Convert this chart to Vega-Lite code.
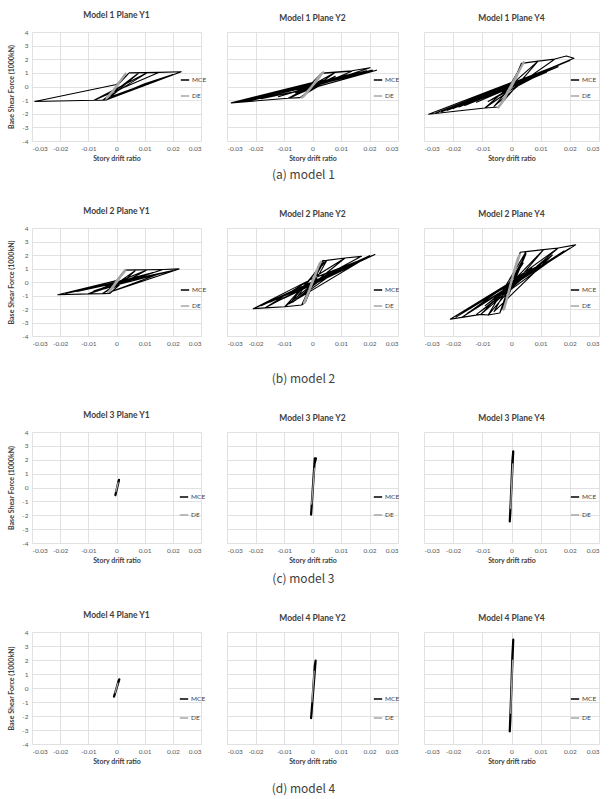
{
"$schema":"https://vega.github.io/schema/vega-lite/v6.json",
"background":"white",
"padding":{"left":7,"top":10,"right":5,"bottom":5},
"config":{
 "font":"Lato",
 "view":{"stroke":null},
 "axis":{"grid":true,"gridColor":"#d9d9d9","gridWidth":0.8,"domain":false,"ticks":false,"labelFontSize":6.5,"labelColor":"#595959","titleFontSize":7,"titleFontWeight":"bold","titleColor":"#404040","labelFont":"Lato","titleFont":"Lato"},
 "legend":{"labelFont":"Lato","labelColor":"#404040"},
 "title":{"fontSize":8.5,"fontWeight":"bold","color":"#404040","offset":10,"font":"Lato"},
 "line":{"strokeJoin":"round","strokeCap":"round"}
},
"datasets":{"d":[
{"p":"1Y1","s":"MCE","i":0,"x":0,"y":0},
{"p":"1Y1","s":"MCE","i":1,"x":0.0045,"y":1.0},
{"p":"1Y1","s":"MCE","i":2,"x":0.008,"y":1.01},
{"p":"1Y1","s":"MCE","i":3,"x":-0.0035,"y":-0.98},
{"p":"1Y1","s":"MCE","i":4,"x":-0.0049,"y":-1.0},
{"p":"1Y1","s":"MCE","i":5,"x":0.008,"y":1.01},
{"p":"1Y1","s":"MCE","i":6,"x":0.011,"y":1.02},
{"p":"1Y1","s":"MCE","i":7,"x":-0.0049,"y":-1.0},
{"p":"1Y1","s":"MCE","i":8,"x":-0.008,"y":-1.01},
{"p":"1Y1","s":"MCE","i":9,"x":0.011,"y":1.02},
{"p":"1Y1","s":"MCE","i":10,"x":0.015,"y":1.03},
{"p":"1Y1","s":"MCE","i":11,"x":-0.008,"y":-1.01},
{"p":"1Y1","s":"MCE","i":12,"x":-0.029,"y":-1.1},
{"p":"1Y1","s":"MCE","i":13,"x":0.0,"y":0.15},
{"p":"1Y1","s":"MCE","i":14,"x":0.0045,"y":1.0},
{"p":"1Y1","s":"MCE","i":15,"x":0.015,"y":1.04},
{"p":"1Y1","s":"MCE","i":16,"x":0.023,"y":1.08},
{"p":"1Y1","s":"MCE","i":17,"x":-0.0035,"y":-0.97},
{"p":"1Y1","s":"MCE","i":18,"x":0.01,"y":0.2},
{"p":"1Y1","s":"MCE","i":19,"x":0.02,"y":0.88},
{"p":"1Y1","s":"MCE","i":20,"x":0.004,"y":-0.3},
{"p":"1Y1","s":"MCE","i":21,"x":-0.002,"y":-0.75},
{"p":"1Y1","s":"MCE","i":22,"x":0.001,"y":-0.2},
{"p":"1Y1","s":"DE","i":0,"x":-0.0028,"y":-0.7},
{"p":"1Y1","s":"DE","i":1,"x":-0.0012,"y":-0.35},
{"p":"1Y1","s":"DE","i":2,"x":0.0005,"y":0.15},
{"p":"1Y1","s":"DE","i":3,"x":0.002,"y":0.6},
{"p":"1Y1","s":"DE","i":4,"x":0.0033,"y":0.95},
{"p":"1Y1","s":"DE","i":5,"x":0.0025,"y":0.75},
{"p":"1Y1","s":"DE","i":6,"x":0.001,"y":0.3},
{"p":"1Y1","s":"DE","i":7,"x":-0.0005,"y":-0.15},
{"p":"1Y1","s":"DE","i":8,"x":-0.002,"y":-0.5},
{"p":"1Y1","s":"DE","i":9,"x":-0.0035,"y":-0.85},
{"p":"1Y1","s":"DE","i":10,"x":-0.0025,"y":-0.65},
{"p":"1Y1","s":"DE","i":11,"x":-0.0005,"y":-0.1},
{"p":"1Y1","s":"DE","i":12,"x":0.0015,"y":0.45},
{"p":"1Y1","s":"DE","i":13,"x":0.003,"y":0.85},

{"p":"1Y2","s":"MCE","i":0,"x":0,"y":0},
{"p":"1Y2","s":"MCE","i":1,"x":0.0032,"y":0.95},
{"p":"1Y2","s":"MCE","i":2,"x":0.0079,"y":1.03},
{"p":"1Y2","s":"MCE","i":3,"x":-0.0044,"y":-0.82},
{"p":"1Y2","s":"MCE","i":4,"x":-0.0085,"y":-0.86},
{"p":"1Y2","s":"MCE","i":5,"x":0.0079,"y":1.03},
{"p":"1Y2","s":"MCE","i":6,"x":0.0138,"y":1.12},
{"p":"1Y2","s":"MCE","i":7,"x":-0.0085,"y":-0.86},
{"p":"1Y2","s":"MCE","i":8,"x":-0.0285,"y":-1.2},
{"p":"1Y2","s":"MCE","i":9,"x":0.0,"y":0.3},
{"p":"1Y2","s":"MCE","i":10,"x":0.0032,"y":0.98},
{"p":"1Y2","s":"MCE","i":11,"x":0.0138,"y":1.15},
{"p":"1Y2","s":"MCE","i":12,"x":0.0202,"y":1.38},
{"p":"1Y2","s":"MCE","i":13,"x":-0.006,"y":-0.45},
{"p":"1Y2","s":"MCE","i":14,"x":0.0225,"y":1.19},
{"p":"1Y2","s":"MCE","i":15,"x":-0.02,"y":-0.95},
{"p":"1Y2","s":"MCE","i":16,"x":-0.0285,"y":-1.2},
{"p":"1Y2","s":"MCE","i":17,"x":0.004,"y":0.45},
{"p":"1Y2","s":"MCE","i":18,"x":-0.007,"y":-0.75},
{"p":"1Y2","s":"MCE","i":19,"x":0.008,"y":0.75},
{"p":"1Y2","s":"MCE","i":20,"x":-0.003,"y":-0.6},
{"p":"1Y2","s":"MCE","i":21,"x":0.0,"y":-0.1},
{"p":"1Y2","s":"MCE","i":22,"x":-0.018,"y":-0.9},
{"p":"1Y2","s":"MCE","i":23,"x":0.016,"y":1.05},
{"p":"1Y2","s":"MCE","i":24,"x":-0.024,"y":-1.1},
{"p":"1Y2","s":"MCE","i":25,"x":0.019,"y":1.15},
{"p":"1Y2","s":"MCE","i":26,"x":-0.012,"y":-0.75},
{"p":"1Y2","s":"MCE","i":27,"x":0.012,"y":0.85},
{"p":"1Y2","s":"MCE","i":28,"x":-0.026,"y":-1.15},
{"p":"1Y2","s":"MCE","i":29,"x":0.021,"y":1.2},
{"p":"1Y2","s":"DE","i":0,"x":-0.0038,"y":-0.82},
{"p":"1Y2","s":"DE","i":1,"x":-0.0032,"y":-0.72},
{"p":"1Y2","s":"DE","i":2,"x":-0.002,"y":-0.4},
{"p":"1Y2","s":"DE","i":3,"x":-0.0005,"y":-0.05},
{"p":"1Y2","s":"DE","i":4,"x":0.001,"y":0.35},
{"p":"1Y2","s":"DE","i":5,"x":0.0025,"y":0.8},
{"p":"1Y2","s":"DE","i":6,"x":0.0038,"y":1.05},
{"p":"1Y2","s":"DE","i":7,"x":0.003,"y":0.85},
{"p":"1Y2","s":"DE","i":8,"x":0.0015,"y":0.4},
{"p":"1Y2","s":"DE","i":9,"x":0.0,"y":0.05},
{"p":"1Y2","s":"DE","i":10,"x":-0.0015,"y":-0.35},
{"p":"1Y2","s":"DE","i":11,"x":-0.003,"y":-0.7},
{"p":"1Y2","s":"DE","i":12,"x":-0.0038,"y":-0.82},

{"p":"1Y4","s":"MCE","i":0,"x":0,"y":0},
{"p":"1Y4","s":"MCE","i":1,"x":0.0034,"y":1.7},
{"p":"1Y4","s":"MCE","i":2,"x":0.0091,"y":1.86},
{"p":"1Y4","s":"MCE","i":3,"x":-0.0045,"y":-1.5},
{"p":"1Y4","s":"MCE","i":4,"x":-0.0091,"y":-1.58},
{"p":"1Y4","s":"MCE","i":5,"x":0.0091,"y":1.86},
{"p":"1Y4","s":"MCE","i":6,"x":0.0148,"y":2.0},
{"p":"1Y4","s":"MCE","i":7,"x":-0.0091,"y":-1.58},
{"p":"1Y4","s":"MCE","i":8,"x":-0.0193,"y":-1.82},
{"p":"1Y4","s":"MCE","i":9,"x":-0.0284,"y":-2.04},
{"p":"1Y4","s":"MCE","i":10,"x":0.0,"y":0.3},
{"p":"1Y4","s":"MCE","i":11,"x":0.004,"y":1.72},
{"p":"1Y4","s":"MCE","i":12,"x":0.0148,"y":2.02},
{"p":"1Y4","s":"MCE","i":13,"x":0.0188,"y":2.24},
{"p":"1Y4","s":"MCE","i":14,"x":0.0214,"y":2.07},
{"p":"1Y4","s":"MCE","i":15,"x":-0.02,"y":-1.62},
{"p":"1Y4","s":"MCE","i":16,"x":0.016,"y":1.45},
{"p":"1Y4","s":"MCE","i":17,"x":-0.016,"y":-1.4},
{"p":"1Y4","s":"MCE","i":18,"x":0.012,"y":1.05},
{"p":"1Y4","s":"MCE","i":19,"x":-0.012,"y":-1.15},
{"p":"1Y4","s":"MCE","i":20,"x":0.008,"y":0.7},
{"p":"1Y4","s":"MCE","i":21,"x":-0.008,"y":-1.1},
{"p":"1Y4","s":"MCE","i":22,"x":0.005,"y":0.55},
{"p":"1Y4","s":"MCE","i":23,"x":-0.006,"y":-1.45},
{"p":"1Y4","s":"MCE","i":24,"x":0.0,"y":0.0},
{"p":"1Y4","s":"MCE","i":25,"x":-0.024,"y":-1.85},
{"p":"1Y4","s":"MCE","i":26,"x":0.018,"y":1.75},
{"p":"1Y4","s":"MCE","i":27,"x":-0.026,"y":-1.95},
{"p":"1Y4","s":"MCE","i":28,"x":0.02,"y":1.9},
{"p":"1Y4","s":"MCE","i":29,"x":-0.018,"y":-1.5},
{"p":"1Y4","s":"MCE","i":30,"x":0.014,"y":1.3},
{"p":"1Y4","s":"MCE","i":31,"x":-0.022,"y":-1.75},
{"p":"1Y4","s":"MCE","i":32,"x":0.0,"y":0.0},
{"p":"1Y4","s":"DE","i":0,"x":-0.0045,"y":-1.55},
{"p":"1Y4","s":"DE","i":1,"x":-0.0035,"y":-1.25},
{"p":"1Y4","s":"DE","i":2,"x":-0.002,"y":-0.7},
{"p":"1Y4","s":"DE","i":3,"x":0.0,"y":0.0},
{"p":"1Y4","s":"DE","i":4,"x":0.0015,"y":0.6},
{"p":"1Y4","s":"DE","i":5,"x":0.003,"y":1.3},
{"p":"1Y4","s":"DE","i":6,"x":0.0042,"y":1.78},
{"p":"1Y4","s":"DE","i":7,"x":0.0035,"y":1.5},
{"p":"1Y4","s":"DE","i":8,"x":0.002,"y":0.9},
{"p":"1Y4","s":"DE","i":9,"x":0.0,"y":0.15},
{"p":"1Y4","s":"DE","i":10,"x":-0.0015,"y":-0.45},
{"p":"1Y4","s":"DE","i":11,"x":-0.003,"y":-1.05},
{"p":"1Y4","s":"DE","i":12,"x":-0.0045,"y":-1.55},
{"p":"1Y4","s":"DE","i":13,"x":-0.0025,"y":-0.95},
{"p":"1Y4","s":"DE","i":14,"x":0.0005,"y":0.35},
{"p":"1Y4","s":"DE","i":15,"x":0.0025,"y":1.1},

{"p":"2Y1","s":"MCE","i":0,"x":0,"y":0},
{"p":"2Y1","s":"MCE","i":1,"x":0.003,"y":0.88},
{"p":"2Y1","s":"MCE","i":2,"x":0.007,"y":0.9},
{"p":"2Y1","s":"MCE","i":3,"x":-0.0024,"y":-0.85},
{"p":"2Y1","s":"MCE","i":4,"x":-0.005,"y":-0.86},
{"p":"2Y1","s":"MCE","i":5,"x":0.007,"y":0.9},
{"p":"2Y1","s":"MCE","i":6,"x":0.011,"y":0.91},
{"p":"2Y1","s":"MCE","i":7,"x":-0.005,"y":-0.86},
{"p":"2Y1","s":"MCE","i":8,"x":-0.01,"y":-0.88},
{"p":"2Y1","s":"MCE","i":9,"x":0.011,"y":0.91},
{"p":"2Y1","s":"MCE","i":10,"x":0.0165,"y":0.93},
{"p":"2Y1","s":"MCE","i":11,"x":-0.01,"y":-0.88},
{"p":"2Y1","s":"MCE","i":12,"x":-0.0208,"y":-0.95},
{"p":"2Y1","s":"MCE","i":13,"x":0.0,"y":0.1},
{"p":"2Y1","s":"MCE","i":14,"x":0.003,"y":0.88},
{"p":"2Y1","s":"MCE","i":15,"x":0.0165,"y":0.93},
{"p":"2Y1","s":"MCE","i":16,"x":0.0222,"y":0.97},
{"p":"2Y1","s":"MCE","i":17,"x":-0.003,"y":-0.8},
{"p":"2Y1","s":"MCE","i":18,"x":0.015,"y":0.6},
{"p":"2Y1","s":"MCE","i":19,"x":-0.016,"y":-0.75},
{"p":"2Y1","s":"MCE","i":20,"x":0.01,"y":0.4},
{"p":"2Y1","s":"MCE","i":21,"x":-0.012,"y":-0.6},
{"p":"2Y1","s":"MCE","i":22,"x":0.006,"y":0.3},
{"p":"2Y1","s":"MCE","i":23,"x":-0.004,"y":-0.5},
{"p":"2Y1","s":"MCE","i":24,"x":0.0,"y":0.0},
{"p":"2Y1","s":"MCE","i":25,"x":-0.018,"y":-0.85},
{"p":"2Y1","s":"MCE","i":26,"x":0.02,"y":0.85},
{"p":"2Y1","s":"MCE","i":27,"x":-0.014,"y":-0.7},
{"p":"2Y1","s":"MCE","i":28,"x":0.018,"y":0.75},
{"p":"2Y1","s":"MCE","i":29,"x":-0.008,"y":-0.65},
{"p":"2Y1","s":"MCE","i":30,"x":0.013,"y":0.7},
{"p":"2Y1","s":"MCE","i":31,"x":0.0,"y":0.0},
{"p":"2Y1","s":"DE","i":0,"x":-0.0025,"y":-0.7},
{"p":"2Y1","s":"DE","i":1,"x":-0.001,"y":-0.3},
{"p":"2Y1","s":"DE","i":2,"x":0.0008,"y":0.25},
{"p":"2Y1","s":"DE","i":3,"x":0.0025,"y":0.75},
{"p":"2Y1","s":"DE","i":4,"x":0.0032,"y":0.85},
{"p":"2Y1","s":"DE","i":5,"x":0.002,"y":0.55},
{"p":"2Y1","s":"DE","i":6,"x":0.0,"y":0.05},
{"p":"2Y1","s":"DE","i":7,"x":-0.0015,"y":-0.4},
{"p":"2Y1","s":"DE","i":8,"x":-0.003,"y":-0.75},
{"p":"2Y1","s":"DE","i":9,"x":-0.0015,"y":-0.45},
{"p":"2Y1","s":"DE","i":10,"x":0.0005,"y":0.1},
{"p":"2Y1","s":"DE","i":11,"x":0.002,"y":0.6},

{"p":"2Y2","s":"MCE","i":0,"x":0,"y":0},
{"p":"2Y2","s":"MCE","i":1,"x":0.0025,"y":1.4},
{"p":"2Y2","s":"MCE","i":2,"x":0.0035,"y":1.55},
{"p":"2Y2","s":"MCE","i":3,"x":-0.0025,"y":-1.5},
{"p":"2Y2","s":"MCE","i":4,"x":-0.0038,"y":-1.7},
{"p":"2Y2","s":"MCE","i":5,"x":0.0035,"y":1.58},
{"p":"2Y2","s":"MCE","i":6,"x":0.005,"y":1.6},
{"p":"2Y2","s":"MCE","i":7,"x":-0.0038,"y":-1.7},
{"p":"2Y2","s":"MCE","i":8,"x":-0.0097,"y":-1.83},
{"p":"2Y2","s":"MCE","i":9,"x":0.005,"y":1.6},
{"p":"2Y2","s":"MCE","i":10,"x":0.0114,"y":1.78},
{"p":"2Y2","s":"MCE","i":11,"x":-0.0097,"y":-1.83},
{"p":"2Y2","s":"MCE","i":12,"x":-0.0167,"y":-1.92},
{"p":"2Y2","s":"MCE","i":13,"x":0.0114,"y":1.78},
{"p":"2Y2","s":"MCE","i":14,"x":0.0172,"y":1.9},
{"p":"2Y2","s":"MCE","i":15,"x":-0.0167,"y":-1.92},
{"p":"2Y2","s":"MCE","i":16,"x":-0.0208,"y":-1.98},
{"p":"2Y2","s":"MCE","i":17,"x":0.0,"y":0.25},
{"p":"2Y2","s":"MCE","i":18,"x":0.0219,"y":2.03},
{"p":"2Y2","s":"MCE","i":19,"x":0.012,"y":1.05},
{"p":"2Y2","s":"MCE","i":20,"x":-0.015,"y":-1.5},
{"p":"2Y2","s":"MCE","i":21,"x":0.014,"y":1.2},
{"p":"2Y2","s":"MCE","i":22,"x":-0.01,"y":-1.2},
{"p":"2Y2","s":"MCE","i":23,"x":0.009,"y":0.9},
{"p":"2Y2","s":"MCE","i":24,"x":-0.007,"y":-1.5},
{"p":"2Y2","s":"MCE","i":25,"x":0.006,"y":0.7},
{"p":"2Y2","s":"MCE","i":26,"x":-0.005,"y":-1.0},
{"p":"2Y2","s":"MCE","i":27,"x":0.003,"y":1.3},
{"p":"2Y2","s":"MCE","i":28,"x":0.0,"y":0.0},
{"p":"2Y2","s":"MCE","i":29,"x":-0.018,"y":-1.75},
{"p":"2Y2","s":"MCE","i":30,"x":0.019,"y":1.8},
{"p":"2Y2","s":"MCE","i":31,"x":-0.013,"y":-1.5},
{"p":"2Y2","s":"MCE","i":32,"x":0.016,"y":1.5},
{"p":"2Y2","s":"MCE","i":33,"x":-0.02,"y":-1.9},
{"p":"2Y2","s":"MCE","i":34,"x":0.02,"y":1.95},
{"p":"2Y2","s":"MCE","i":35,"x":-0.008,"y":-1.6},
{"p":"2Y2","s":"MCE","i":36,"x":0.004,"y":1.5},
{"p":"2Y2","s":"MCE","i":37,"x":0.0,"y":0.0},
{"p":"2Y2","s":"DE","i":0,"x":-0.0028,"y":-1.55},
{"p":"2Y2","s":"DE","i":1,"x":-0.0018,"y":-1.0},
{"p":"2Y2","s":"DE","i":2,"x":-0.0005,"y":-0.3},
{"p":"2Y2","s":"DE","i":3,"x":0.001,"y":0.5},
{"p":"2Y2","s":"DE","i":4,"x":0.0022,"y":1.2},
{"p":"2Y2","s":"DE","i":5,"x":0.003,"y":1.5},
{"p":"2Y2","s":"DE","i":6,"x":0.002,"y":1.1},
{"p":"2Y2","s":"DE","i":7,"x":0.0,"y":0.1},
{"p":"2Y2","s":"DE","i":8,"x":-0.0012,"y":-0.6},
{"p":"2Y2","s":"DE","i":9,"x":-0.0025,"y":-1.3},
{"p":"2Y2","s":"DE","i":10,"x":-0.003,"y":-1.55},
{"p":"2Y2","s":"DE","i":11,"x":-0.0015,"y":-0.8},
{"p":"2Y2","s":"DE","i":12,"x":0.0005,"y":0.3},
{"p":"2Y2","s":"DE","i":13,"x":0.0025,"y":1.35},

{"p":"2Y4","s":"MCE","i":0,"x":0,"y":0},
{"p":"2Y4","s":"MCE","i":1,"x":0.003,"y":2.2},
{"p":"2Y4","s":"MCE","i":2,"x":-0.004,"y":-2.3},
{"p":"2Y4","s":"MCE","i":3,"x":0.003,"y":2.2},
{"p":"2Y4","s":"MCE","i":4,"x":0.005,"y":2.25},
{"p":"2Y4","s":"MCE","i":5,"x":-0.004,"y":-2.3},
{"p":"2Y4","s":"MCE","i":6,"x":-0.008,"y":-2.45},
{"p":"2Y4","s":"MCE","i":7,"x":0.005,"y":2.25},
{"p":"2Y4","s":"MCE","i":8,"x":0.011,"y":2.4},
{"p":"2Y4","s":"MCE","i":9,"x":-0.008,"y":-2.45},
{"p":"2Y4","s":"MCE","i":10,"x":-0.0105,"y":-2.4},
{"p":"2Y4","s":"MCE","i":11,"x":0.011,"y":2.4},
{"p":"2Y4","s":"MCE","i":12,"x":0.016,"y":2.52},
{"p":"2Y4","s":"MCE","i":13,"x":-0.0105,"y":-2.4},
{"p":"2Y4","s":"MCE","i":14,"x":-0.017,"y":-2.62},
{"p":"2Y4","s":"MCE","i":15,"x":0.016,"y":2.52},
{"p":"2Y4","s":"MCE","i":16,"x":0.022,"y":2.75},
{"p":"2Y4","s":"MCE","i":17,"x":-0.017,"y":-2.62},
{"p":"2Y4","s":"MCE","i":18,"x":-0.021,"y":-2.76},
{"p":"2Y4","s":"MCE","i":19,"x":0.012,"y":1.6},
{"p":"2Y4","s":"MCE","i":20,"x":-0.014,"y":-1.95},
{"p":"2Y4","s":"MCE","i":21,"x":0.01,"y":1.3},
{"p":"2Y4","s":"MCE","i":22,"x":-0.009,"y":-1.75},
{"p":"2Y4","s":"MCE","i":23,"x":0.007,"y":1.05},
{"p":"2Y4","s":"MCE","i":24,"x":-0.006,"y":-1.6},
{"p":"2Y4","s":"MCE","i":25,"x":0.004,"y":1.4},
{"p":"2Y4","s":"MCE","i":26,"x":-0.002,"y":-0.6},
{"p":"2Y4","s":"MCE","i":27,"x":0.0,"y":0.0},
{"p":"2Y4","s":"MCE","i":28,"x":-0.019,"y":-2.6},
{"p":"2Y4","s":"MCE","i":29,"x":0.02,"y":2.5},
{"p":"2Y4","s":"MCE","i":30,"x":-0.015,"y":-2.3},
{"p":"2Y4","s":"MCE","i":31,"x":0.018,"y":2.3},
{"p":"2Y4","s":"MCE","i":32,"x":-0.012,"y":-2.4},
{"p":"2Y4","s":"MCE","i":33,"x":0.014,"y":2.0},
{"p":"2Y4","s":"MCE","i":34,"x":-0.006,"y":-2.2},
{"p":"2Y4","s":"MCE","i":35,"x":0.005,"y":2.1},
{"p":"2Y4","s":"MCE","i":36,"x":-0.003,"y":-2.0},
{"p":"2Y4","s":"MCE","i":37,"x":0.0,"y":0.0},
{"p":"2Y4","s":"DE","i":0,"x":-0.0025,"y":-2.0},
{"p":"2Y4","s":"DE","i":1,"x":-0.0015,"y":-1.2},
{"p":"2Y4","s":"DE","i":2,"x":-0.0003,"y":-0.2},
{"p":"2Y4","s":"DE","i":3,"x":0.001,"y":0.8},
{"p":"2Y4","s":"DE","i":4,"x":0.002,"y":1.6},
{"p":"2Y4","s":"DE","i":5,"x":0.0028,"y":2.0},
{"p":"2Y4","s":"DE","i":6,"x":0.0018,"y":1.3},
{"p":"2Y4","s":"DE","i":7,"x":0.0,"y":0.1},
{"p":"2Y4","s":"DE","i":8,"x":-0.0012,"y":-0.9},
{"p":"2Y4","s":"DE","i":9,"x":-0.0022,"y":-1.7},
{"p":"2Y4","s":"DE","i":10,"x":-0.0028,"y":-2.05},
{"p":"2Y4","s":"DE","i":11,"x":-0.0012,"y":-1.0},
{"p":"2Y4","s":"DE","i":12,"x":0.0005,"y":0.5},
{"p":"2Y4","s":"DE","i":13,"x":0.0022,"y":1.8},

{"p":"3Y1","s":"MCE","i":0,"x":-0.0004,"y":-0.55},
{"p":"3Y1","s":"MCE","i":1,"x":0.0009,"y":0.55},
{"p":"3Y1","s":"MCE","i":2,"x":0.0007,"y":0.45},
{"p":"3Y1","s":"MCE","i":3,"x":-0.0002,"y":-0.4},
{"p":"3Y1","s":"MCE","i":4,"x":-0.0004,"y":-0.55},
{"p":"3Y1","s":"DE","i":0,"x":-0.0002,"y":-0.3},
{"p":"3Y1","s":"DE","i":1,"x":0.0006,"y":0.35},
{"p":"3Y1","s":"DE","i":2,"x":0.0001,"y":0.0},
{"p":"3Y2","s":"MCE","i":0,"x":-0.0005,"y":-1.95},
{"p":"3Y2","s":"MCE","i":1,"x":0.0008,"y":2.1},
{"p":"3Y2","s":"MCE","i":2,"x":0.0012,"y":2.1},
{"p":"3Y2","s":"MCE","i":3,"x":0.0007,"y":1.7},
{"p":"3Y2","s":"MCE","i":4,"x":-0.0003,"y":-1.4},
{"p":"3Y2","s":"MCE","i":5,"x":-0.0005,"y":-1.95},
{"p":"3Y2","s":"DE","i":0,"x":-0.0003,"y":-1.2},
{"p":"3Y2","s":"DE","i":1,"x":0.0007,"y":1.4},
{"p":"3Y2","s":"DE","i":2,"x":0.0002,"y":0.1},
{"p":"3Y4","s":"MCE","i":0,"x":-0.0006,"y":-2.45},
{"p":"3Y4","s":"MCE","i":1,"x":0.0006,"y":2.6},
{"p":"3Y4","s":"MCE","i":2,"x":0.0003,"y":1.9},
{"p":"3Y4","s":"MCE","i":3,"x":-0.0004,"y":-1.8},
{"p":"3Y4","s":"MCE","i":4,"x":-0.0006,"y":-2.45},
{"p":"3Y4","s":"DE","i":0,"x":-0.0003,"y":-1.5},
{"p":"3Y4","s":"DE","i":1,"x":0.0004,"y":1.7},
{"p":"3Y4","s":"DE","i":2,"x":0.0,"y":0.1},
{"p":"4Y1","s":"MCE","i":0,"x":-0.0009,"y":-0.62},
{"p":"4Y1","s":"MCE","i":1,"x":0.001,"y":0.62},
{"p":"4Y1","s":"MCE","i":2,"x":0.0007,"y":0.5},
{"p":"4Y1","s":"MCE","i":3,"x":-0.0006,"y":-0.45},
{"p":"4Y1","s":"MCE","i":4,"x":-0.0009,"y":-0.62},
{"p":"4Y1","s":"DE","i":0,"x":-0.0005,"y":-0.35},
{"p":"4Y1","s":"DE","i":1,"x":0.0005,"y":0.35},
{"p":"4Y1","s":"DE","i":2,"x":0.0,"y":0.0},
{"p":"4Y2","s":"MCE","i":0,"x":-0.0005,"y":-2.15},
{"p":"4Y2","s":"MCE","i":1,"x":0.0011,"y":1.95},
{"p":"4Y2","s":"MCE","i":2,"x":0.0008,"y":1.6},
{"p":"4Y2","s":"MCE","i":3,"x":-0.0003,"y":-1.7},
{"p":"4Y2","s":"MCE","i":4,"x":-0.0005,"y":-2.15},
{"p":"4Y2","s":"DE","i":0,"x":-0.0002,"y":-1.0},
{"p":"4Y2","s":"DE","i":1,"x":0.0006,"y":1.2},
{"p":"4Y2","s":"DE","i":2,"x":0.0002,"y":0.1},
{"p":"4Y4","s":"MCE","i":0,"x":-0.0006,"y":-3.1},
{"p":"4Y4","s":"MCE","i":1,"x":0.0006,"y":3.45},
{"p":"4Y4","s":"MCE","i":2,"x":0.0003,"y":2.3},
{"p":"4Y4","s":"MCE","i":3,"x":-0.0004,"y":-2.3},
{"p":"4Y4","s":"MCE","i":4,"x":-0.0006,"y":-3.1},
{"p":"4Y4","s":"DE","i":0,"x":-0.0003,"y":-1.8},
{"p":"4Y4","s":"DE","i":1,"x":0.0004,"y":2.0},
{"p":"4Y4","s":"DE","i":2,"x":0.0,"y":0.1}
]},
"spacing":25,
"resolve":{"scale":{"color":"independent"},"legend":{"color":"independent"}},
"vconcat":[
{"hconcat":[
 {"width":169,"height":109,"title":"Model 1 Plane Y1","data":{"name":"d"},"transform":[{"filter":"datum.p=='1Y1'"}],
  "encoding":{"x":{"field":"x","type":"quantitative","scale":{"domain":[-0.03,0.03],"nice":false},"axis":{"values":[-0.03,-0.02,-0.01,0,0.01,0.02,0.03],"labelExpr":"''+datum.value","title":"Story drift ratio","labelPadding":4,"titlePadding":3}},
   "y":{"field":"y","type":"quantitative","scale":{"domain":[-4,4],"nice":false},"axis":{"values":[-4,-3,-2,-1,0,1,2,3,4],"labelExpr":"''+datum.value","title":"Base Shear Force (1000kN)","labelPadding":4,"titlePadding":7}},
   "order":{"field":"i","type":"quantitative"},
   "color":{"field":"s","type":"nominal","scale":{"domain":["MCE","DE"],"range":["#000000","#a6a6a6"]},"legend":{"title":null,"orient":"none","legendX":148,"legendY":43,"symbolType":"stroke","symbolSize":70,"labelFontSize":6.5,"labelOffset":2,"rowPadding":7,"padding":0,"encode":{"symbols":{"update":{"strokeWidth":{"signal":"datum.value=='MCE'?1.5:1.8"}}}}}}},
  "layer":[{"transform":[{"filter":"datum.s=='MCE'"}],"mark":{"type":"line","strokeWidth":1.1}},{"transform":[{"filter":"datum.s=='DE'"}],"mark":{"type":"line","strokeWidth":2.2}}]},
 {"width":171,"height":109,"title":"Model 1 Plane Y2","data":{"name":"d"},"transform":[{"filter":"datum.p=='1Y2'"}],
  "encoding":{"x":{"field":"x","type":"quantitative","scale":{"domain":[-0.03,0.03],"nice":false},"axis":{"values":[-0.03,-0.02,-0.01,0,0.01,0.02,0.03],"labelExpr":"''+datum.value","title":"Story drift ratio","labelPadding":4,"titlePadding":3}},
   "y":{"field":"y","type":"quantitative","scale":{"domain":[-4,4],"nice":false},"axis":{"values":[-4,-3,-2,-1,0,1,2,3,4],"labels":false,"title":null}},
   "order":{"field":"i","type":"quantitative"},
   "color":{"field":"s","type":"nominal","scale":{"domain":["MCE","DE"],"range":["#000000","#a6a6a6"]},"legend":{"title":null,"orient":"none","legendX":146,"legendY":43,"symbolType":"stroke","symbolSize":70,"labelFontSize":6.5,"labelOffset":2,"rowPadding":7,"padding":0,"encode":{"symbols":{"update":{"strokeWidth":{"signal":"datum.value=='MCE'?1.5:1.8"}}}}}}},
  "layer":[{"transform":[{"filter":"datum.s=='MCE'"}],"mark":{"type":"line","strokeWidth":1.1}},{"transform":[{"filter":"datum.s=='DE'"}],"mark":{"type":"line","strokeWidth":2.2}}]},
 {"width":175,"height":109,"title":"Model 1 Plane Y4","data":{"name":"d"},"transform":[{"filter":"datum.p=='1Y4'"}],
  "encoding":{"x":{"field":"x","type":"quantitative","scale":{"domain":[-0.03,0.03],"nice":false},"axis":{"values":[-0.03,-0.02,-0.01,0,0.01,0.02,0.03],"labelExpr":"''+datum.value","title":"Story drift ratio","labelPadding":4,"titlePadding":3}},
   "y":{"field":"y","type":"quantitative","scale":{"domain":[-4,4],"nice":false},"axis":{"values":[-4,-3,-2,-1,0,1,2,3,4],"labels":false,"title":null}},
   "order":{"field":"i","type":"quantitative"},
   "color":{"field":"s","type":"nominal","scale":{"domain":["MCE","DE"],"range":["#000000","#a6a6a6"]},"legend":{"title":null,"orient":"none","legendX":146,"legendY":43,"symbolType":"stroke","symbolSize":70,"labelFontSize":6.5,"labelOffset":2,"rowPadding":7,"padding":0,"encode":{"symbols":{"update":{"strokeWidth":{"signal":"datum.value=='MCE'?1.5:1.8"}}}}}}},
  "layer":[{"transform":[{"filter":"datum.s=='MCE'"}],"mark":{"type":"line","strokeWidth":1.1}},{"transform":[{"filter":"datum.s=='DE'"}],"mark":{"type":"line","strokeWidth":2.2}}]}
 ],
 "spacing":26,"bounds":"flush",
 "title":{"text":"(a) model 1","orient":"bottom","anchor":"middle","font":"Noto Sans CJK KR","fontSize":12,"fontWeight":"normal","color":"#404040","offset":8},
 "resolve":{"scale":{"color":"independent"},"legend":{"color":"independent"}}},
{"hconcat":[
 {"width":169,"height":108,"title":"Model 2 Plane Y1","data":{"name":"d"},"transform":[{"filter":"datum.p=='2Y1'"}],
  "encoding":{"x":{"field":"x","type":"quantitative","scale":{"domain":[-0.03,0.03],"nice":false},"axis":{"values":[-0.03,-0.02,-0.01,0,0.01,0.02,0.03],"labelExpr":"''+datum.value","title":null,"labelPadding":4}},
   "y":{"field":"y","type":"quantitative","scale":{"domain":[-4,4],"nice":false},"axis":{"values":[-4,-3,-2,-1,0,1,2,3,4],"labelExpr":"''+datum.value","title":"Base Shear Force (1000kN)","labelPadding":4,"titlePadding":7}},
   "order":{"field":"i","type":"quantitative"},
   "color":{"field":"s","type":"nominal","scale":{"domain":["MCE","DE"],"range":["#000000","#a6a6a6"]},"legend":{"title":null,"orient":"none","legendX":148,"legendY":57,"symbolType":"stroke","symbolSize":70,"labelFontSize":6.5,"labelOffset":2,"rowPadding":7,"padding":0,"encode":{"symbols":{"update":{"strokeWidth":{"signal":"datum.value=='MCE'?1.5:1.8"}}}}}}},
  "layer":[{"transform":[{"filter":"datum.s=='MCE'"}],"mark":{"type":"line","strokeWidth":1.1}},{"transform":[{"filter":"datum.s=='DE'"}],"mark":{"type":"line","strokeWidth":2.2}}]},
 {"width":171,"height":108,"title":"Model 2 Plane Y2","data":{"name":"d"},"transform":[{"filter":"datum.p=='2Y2'"}],
  "encoding":{"x":{"field":"x","type":"quantitative","scale":{"domain":[-0.03,0.03],"nice":false},"axis":{"values":[-0.03,-0.02,-0.01,0,0.01,0.02,0.03],"labelExpr":"''+datum.value","title":null,"labelPadding":4}},
   "y":{"field":"y","type":"quantitative","scale":{"domain":[-4,4],"nice":false},"axis":{"values":[-4,-3,-2,-1,0,1,2,3,4],"labels":false,"title":null}},
   "order":{"field":"i","type":"quantitative"},
   "color":{"field":"s","type":"nominal","scale":{"domain":["MCE","DE"],"range":["#000000","#a6a6a6"]},"legend":{"title":null,"orient":"none","legendX":146,"legendY":57,"symbolType":"stroke","symbolSize":70,"labelFontSize":6.5,"labelOffset":2,"rowPadding":7,"padding":0,"encode":{"symbols":{"update":{"strokeWidth":{"signal":"datum.value=='MCE'?1.5:1.8"}}}}}}},
  "layer":[{"transform":[{"filter":"datum.s=='MCE'"}],"mark":{"type":"line","strokeWidth":1.1}},{"transform":[{"filter":"datum.s=='DE'"}],"mark":{"type":"line","strokeWidth":2.2}}]},
 {"width":175,"height":108,"title":"Model 2 Plane Y4","data":{"name":"d"},"transform":[{"filter":"datum.p=='2Y4'"}],
  "encoding":{"x":{"field":"x","type":"quantitative","scale":{"domain":[-0.03,0.03],"nice":false},"axis":{"values":[-0.03,-0.02,-0.01,0,0.01,0.02,0.03],"labelExpr":"''+datum.value","title":null,"labelPadding":4}},
   "y":{"field":"y","type":"quantitative","scale":{"domain":[-4,4],"nice":false},"axis":{"values":[-4,-3,-2,-1,0,1,2,3,4],"labels":false,"title":null}},
   "order":{"field":"i","type":"quantitative"},
   "color":{"field":"s","type":"nominal","scale":{"domain":["MCE","DE"],"range":["#000000","#a6a6a6"]},"legend":{"title":null,"orient":"none","legendX":146,"legendY":57,"symbolType":"stroke","symbolSize":70,"labelFontSize":6.5,"labelOffset":2,"rowPadding":7,"padding":0,"encode":{"symbols":{"update":{"strokeWidth":{"signal":"datum.value=='MCE'?1.5:1.8"}}}}}}},
  "layer":[{"transform":[{"filter":"datum.s=='MCE'"}],"mark":{"type":"line","strokeWidth":1.1}},{"transform":[{"filter":"datum.s=='DE'"}],"mark":{"type":"line","strokeWidth":2.2}}]}
 ],
 "spacing":26,"bounds":"flush",
 "title":{"text":"(b) model 2","orient":"bottom","anchor":"middle","font":"Noto Sans CJK KR","fontSize":12,"fontWeight":"normal","color":"#404040","offset":27},
 "resolve":{"scale":{"color":"independent"},"legend":{"color":"independent"}}},
{"hconcat":[
 {"width":169,"height":111,"title":"Model 3 Plane Y1","data":{"name":"d"},"transform":[{"filter":"datum.p=='3Y1'"}],
  "encoding":{"x":{"field":"x","type":"quantitative","scale":{"domain":[-0.03,0.03],"nice":false},"axis":{"values":[-0.03,-0.02,-0.01,0,0.01,0.02,0.03],"labelExpr":"''+datum.value","title":"Story drift ratio","labelPadding":4,"titlePadding":3}},
   "y":{"field":"y","type":"quantitative","scale":{"domain":[-4,4],"nice":false},"axis":{"values":[-4,-3,-2,-1,0,1,2,3,4],"labelExpr":"''+datum.value","title":"Base Shear Force (1000kN)","labelPadding":4,"titlePadding":7}},
   "order":{"field":"i","type":"quantitative"},
   "color":{"field":"s","type":"nominal","scale":{"domain":["MCE","DE"],"range":["#000000","#a6a6a6"]},"legend":{"title":null,"orient":"none","legendX":147,"legendY":60,"symbolType":"stroke","symbolSize":70,"labelFontSize":6.5,"labelOffset":2,"rowPadding":9,"padding":0,"encode":{"symbols":{"update":{"strokeWidth":{"signal":"datum.value=='MCE'?3:1.5"}}}}}}},
  "layer":[{"transform":[{"filter":"datum.s=='MCE'"}],"mark":{"type":"line","strokeWidth":2.2}},{"transform":[{"filter":"datum.s=='DE'"}],"mark":{"type":"line","strokeWidth":1.2}}]},
 {"width":171,"height":111,"title":"Model 3 Plane Y2","data":{"name":"d"},"transform":[{"filter":"datum.p=='3Y2'"}],
  "encoding":{"x":{"field":"x","type":"quantitative","scale":{"domain":[-0.03,0.03],"nice":false},"axis":{"values":[-0.03,-0.02,-0.01,0,0.01,0.02,0.03],"labelExpr":"''+datum.value","title":"Story drift ratio","labelPadding":4,"titlePadding":3}},
   "y":{"field":"y","type":"quantitative","scale":{"domain":[-4,4],"nice":false},"axis":{"values":[-4,-3,-2,-1,0,1,2,3,4],"labels":false,"title":null}},
   "order":{"field":"i","type":"quantitative"},
   "color":{"field":"s","type":"nominal","scale":{"domain":["MCE","DE"],"range":["#000000","#a6a6a6"]},"legend":{"title":null,"orient":"none","legendX":146,"legendY":60,"symbolType":"stroke","symbolSize":70,"labelFontSize":6.5,"labelOffset":2,"rowPadding":9,"padding":0,"encode":{"symbols":{"update":{"strokeWidth":{"signal":"datum.value=='MCE'?3:1.5"}}}}}}},
  "layer":[{"transform":[{"filter":"datum.s=='MCE'"}],"mark":{"type":"line","strokeWidth":2.2}},{"transform":[{"filter":"datum.s=='DE'"}],"mark":{"type":"line","strokeWidth":1.2}}]},
 {"width":175,"height":111,"title":"Model 3 Plane Y4","data":{"name":"d"},"transform":[{"filter":"datum.p=='3Y4'"}],
  "encoding":{"x":{"field":"x","type":"quantitative","scale":{"domain":[-0.03,0.03],"nice":false},"axis":{"values":[-0.03,-0.02,-0.01,0,0.01,0.02,0.03],"labelExpr":"''+datum.value","title":"Story drift ratio","labelPadding":4,"titlePadding":3}},
   "y":{"field":"y","type":"quantitative","scale":{"domain":[-4,4],"nice":false},"axis":{"values":[-4,-3,-2,-1,0,1,2,3,4],"labels":false,"title":null}},
   "order":{"field":"i","type":"quantitative"},
   "color":{"field":"s","type":"nominal","scale":{"domain":["MCE","DE"],"range":["#000000","#a6a6a6"]},"legend":{"title":null,"orient":"none","legendX":146,"legendY":60,"symbolType":"stroke","symbolSize":70,"labelFontSize":6.5,"labelOffset":2,"rowPadding":9,"padding":0,"encode":{"symbols":{"update":{"strokeWidth":{"signal":"datum.value=='MCE'?3:1.5"}}}}}}},
  "layer":[{"transform":[{"filter":"datum.s=='MCE'"}],"mark":{"type":"line","strokeWidth":2.2}},{"transform":[{"filter":"datum.s=='DE'"}],"mark":{"type":"line","strokeWidth":1.2}}]}
 ],
 "spacing":26,"bounds":"flush",
 "title":{"text":"(c) model 3","orient":"bottom","anchor":"middle","font":"Noto Sans CJK KR","fontSize":12,"fontWeight":"normal","color":"#404040","offset":10},
 "resolve":{"scale":{"color":"independent"},"legend":{"color":"independent"}}},
{"hconcat":[
 {"width":169,"height":112,"title":"Model 4 Plane Y1","data":{"name":"d"},"transform":[{"filter":"datum.p=='4Y1'"}],
  "encoding":{"x":{"field":"x","type":"quantitative","scale":{"domain":[-0.03,0.03],"nice":false},"axis":{"values":[-0.03,-0.02,-0.01,0,0.01,0.02,0.03],"labelExpr":"''+datum.value","title":"Story drift ratio","labelPadding":4,"titlePadding":3}},
   "y":{"field":"y","type":"quantitative","scale":{"domain":[-4,4],"nice":false},"axis":{"values":[-4,-3,-2,-1,0,1,2,3,4],"labelExpr":"''+datum.value","title":"Base Shear Force (1000kN)","labelPadding":4,"titlePadding":7}},
   "order":{"field":"i","type":"quantitative"},
   "color":{"field":"s","type":"nominal","scale":{"domain":["MCE","DE"],"range":["#000000","#a6a6a6"]},"legend":{"title":null,"orient":"none","legendX":147,"legendY":62,"symbolType":"stroke","symbolSize":70,"labelFontSize":6.5,"labelOffset":2,"rowPadding":10,"padding":0,"encode":{"symbols":{"update":{"strokeWidth":{"signal":"datum.value=='MCE'?3:1.5"}}}}}}},
  "layer":[{"transform":[{"filter":"datum.s=='MCE'"}],"mark":{"type":"line","strokeWidth":2.2}},{"transform":[{"filter":"datum.s=='DE'"}],"mark":{"type":"line","strokeWidth":1.2}}]},
 {"width":171,"height":112,"title":"Model  4 Plane Y2","data":{"name":"d"},"transform":[{"filter":"datum.p=='4Y2'"}],
  "encoding":{"x":{"field":"x","type":"quantitative","scale":{"domain":[-0.03,0.03],"nice":false},"axis":{"values":[-0.03,-0.02,-0.01,0,0.01,0.02,0.03],"labelExpr":"''+datum.value","title":"Story drift ratio","labelPadding":4,"titlePadding":3}},
   "y":{"field":"y","type":"quantitative","scale":{"domain":[-4,4],"nice":false},"axis":{"values":[-4,-3,-2,-1,0,1,2,3,4],"labels":false,"title":null}},
   "order":{"field":"i","type":"quantitative"},
   "color":{"field":"s","type":"nominal","scale":{"domain":["MCE","DE"],"range":["#000000","#a6a6a6"]},"legend":{"title":null,"orient":"none","legendX":146,"legendY":62,"symbolType":"stroke","symbolSize":70,"labelFontSize":6.5,"labelOffset":2,"rowPadding":10,"padding":0,"encode":{"symbols":{"update":{"strokeWidth":{"signal":"datum.value=='MCE'?3:1.5"}}}}}}},
  "layer":[{"transform":[{"filter":"datum.s=='MCE'"}],"mark":{"type":"line","strokeWidth":2.2}},{"transform":[{"filter":"datum.s=='DE'"}],"mark":{"type":"line","strokeWidth":1.2}}]},
 {"width":175,"height":112,"title":"Model 4 Plane Y4","data":{"name":"d"},"transform":[{"filter":"datum.p=='4Y4'"}],
  "encoding":{"x":{"field":"x","type":"quantitative","scale":{"domain":[-0.03,0.03],"nice":false},"axis":{"values":[-0.03,-0.02,-0.01,0,0.01,0.02,0.03],"labelExpr":"''+datum.value","title":"Story drift ratio","labelPadding":4,"titlePadding":3}},
   "y":{"field":"y","type":"quantitative","scale":{"domain":[-4,4],"nice":false},"axis":{"values":[-4,-3,-2,-1,0,1,2,3,4],"labels":false,"title":null}},
   "order":{"field":"i","type":"quantitative"},
   "color":{"field":"s","type":"nominal","scale":{"domain":["MCE","DE"],"range":["#000000","#a6a6a6"]},"legend":{"title":null,"orient":"none","legendX":146,"legendY":62,"symbolType":"stroke","symbolSize":70,"labelFontSize":6.5,"labelOffset":2,"rowPadding":10,"padding":0,"encode":{"symbols":{"update":{"strokeWidth":{"signal":"datum.value=='MCE'?3:1.5"}}}}}}},
  "layer":[{"transform":[{"filter":"datum.s=='MCE'"}],"mark":{"type":"line","strokeWidth":2.2}},{"transform":[{"filter":"datum.s=='DE'"}],"mark":{"type":"line","strokeWidth":1.2}}]}
 ],
 "spacing":26,"bounds":"flush",
 "title":{"text":"(d) model 4","orient":"bottom","anchor":"middle","font":"Noto Sans CJK KR","fontSize":12,"fontWeight":"normal","color":"#404040","offset":19},
 "resolve":{"scale":{"color":"independent"},"legend":{"color":"independent"}}}
]
}
